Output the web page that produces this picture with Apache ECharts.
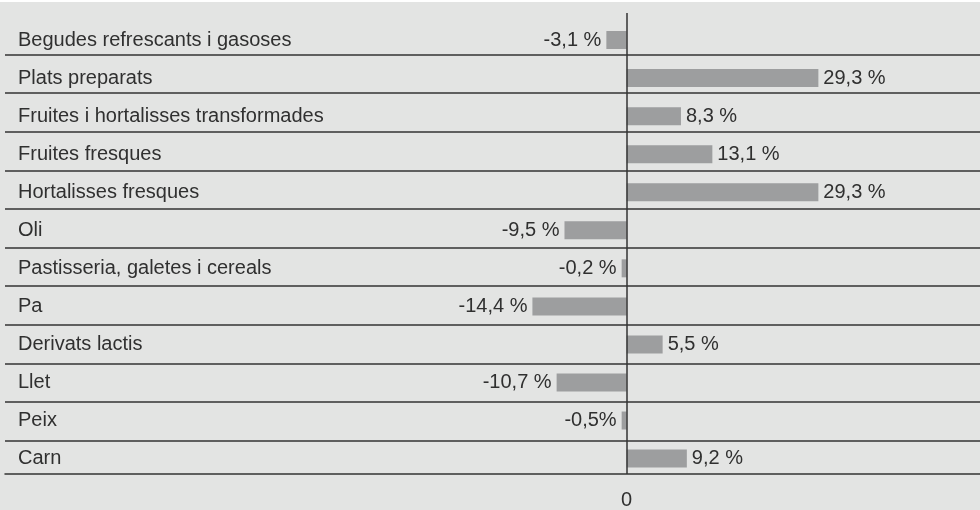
<!DOCTYPE html>
<html lang="ca">
<head>
    <meta charset="UTF-8">
    <title>bar</title>
    <script src="https://cdn.jsdelivr.net/npm/echarts/dist/echarts.min.js"></script>
    <style>
        body{ margin: 0; background: #fff; }
        #bar{ width: 980px; height: 510px; }
    </style>
</head>
<body>

<div id="bar"></div>

<script>
    // dades
    var categories = ['Begudes refrescants i gasoses', 'Plats preparats', 'Fruites i hortalisses transformades',
        'Fruites fresques', 'Hortalisses fresques', 'Oli', 'Pastisseria, galetes i cereals', 'Pa',
        'Derivats lactis', 'Llet', 'Peix', 'Carn'];
    var values = [-3.1, 29.3, 8.3, 13.1, 29.3, -9.5, -0.2, -14.4, 5.5, -10.7, -0.5, 9.2];
    var valueLabels = ['-3,1 %', '29,3 %', '8,3 %', '13,1 %', '29,3 %', '-9,5 %', '-0,2 %', '-14,4 %',
        '5,5 %', '-10,7 %', '-0,5%', '9,2 %'];
    var xTickLabels = ['0'];

    var textColor = '#303030';
    var lineColor = '#333';
    var font = 'Liberation Sans, Arial, sans-serif';

    var myChart = echarts.init(document.getElementById('bar'));

    var barData = values.map(function (v, i) {
        return {
            value: v,
            label: { position: v < 0 ? 'left' : 'right', formatter: valueLabels[i] }
        };
    });

    // linies separadores entre files + eix zero
    var rowLines = categories.slice(1).map(function (c, i) {
        return { yAxis: i + 1 };
    });
    rowLines.push({ xAxis: 0 });

    var option = {
        animation: false,
        backgroundColor: '#e3e4e3',
        graphic: [{
            type: 'rect',
            shape: { x: 0, y: 0, width: 980, height: 2 },
            style: { fill: '#ffffff' }
        }],
        grid: [
            { left: 5, right: 0, top: 21, bottom: 32.4 },
            { left: 5, right: 0, top: 13, bottom: 35 }
        ],
        xAxis: [{
            type: 'value',
            gridIndex: 0,
            min: -95,
            max: 54,
            show: false
        }, {
            type: 'value',
            gridIndex: 1,
            min: -95,
            max: 54,
            interval: 5,
            splitLine: { show: false },
            axisTick: { show: false },
            axisLine: { show: true, onZero: false, lineStyle: { color: lineColor, width: 1.5 } },
            axisLabel: {
                margin: 16,
                color: textColor,
                fontSize: 20,
                fontFamily: font,
                showMinLabel: false,
                showMaxLabel: false,
                formatter: function (v) {
                    return v === 0 ? xTickLabels[0] : '';
                }
            }
        }],
        yAxis: [{
            type: 'category',
            gridIndex: 0,
            inverse: true,
            data: categories,
            axisLine: { show: false },
            axisTick: { show: false },
            splitLine: { show: false },
            axisLabel: {
                inside: true,
                margin: 13,
                padding: [3, 0, 0, 0],
                color: textColor,
                fontSize: 20,
                fontFamily: font
            }
        }, {
            type: 'value',
            gridIndex: 1,
            inverse: true,
            min: -0.07,
            max: 11.86,
            show: false
        }],
        series: [{
            type: 'bar',
            xAxisIndex: 0,
            yAxisIndex: 0,
            data: barData,
            barWidth: 18,
            barMinHeight: 5,
            itemStyle: { color: '#9d9e9f' },
            label: {
                show: true,
                distance: 5,
                color: textColor,
                fontSize: 20,
                fontFamily: font
            }
        }, {
            type: 'line',
            xAxisIndex: 1,
            yAxisIndex: 1,
            data: [],
            silent: true,
            markLine: {
                silent: true,
                symbol: 'none',
                label: { show: false },
                lineStyle: { color: lineColor, width: 1.5, type: 'solid' },
                data: rowLines
            }
        }]
    };

    myChart.setOption(option);
</script>
</body>
</html>
